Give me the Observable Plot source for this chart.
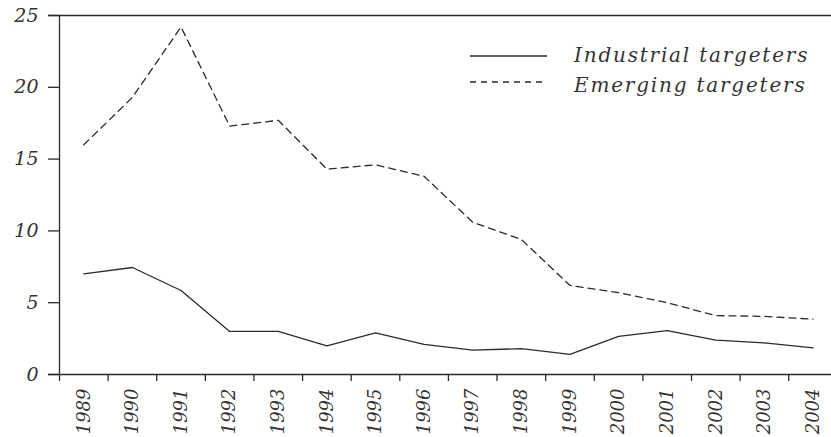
<!DOCTYPE html>
<html>
<head>
<meta charset="utf-8">
<script src="https://cdn.jsdelivr.net/npm/d3@7"></script>
<script src="https://cdn.jsdelivr.net/npm/@observablehq/plot@0.6"></script>
<style>
  html, body { margin: 0; padding: 0; background: #fff; }
  #wrap { position: relative; width: 831px; height: 437px; }
  #legend { position: absolute; left: 0; top: 0; }
</style>
</head>
<body>
<div id="wrap"></div>
<script>
const years = [1989,1990,1991,1992,1993,1994,1995,1996,1997,1998,1999,2000,2001,2002,2003,2004];
const industrial = [7.0,7.45,5.85,3.0,3.0,2.0,2.9,2.1,1.7,1.8,1.4,2.65,3.05,2.4,2.2,1.85];
const emerging = [16.0,19.3,24.2,17.3,17.7,14.3,14.6,13.8,10.6,9.4,6.2,5.7,5.0,4.1,4.05,3.85];
const yTicks = [0,5,10,15,20,25];
const seriesNames = ["Industrial targeters", "Emerging targeters"];

const rows = [];
years.forEach((y, i) => {
  rows.push({year: y, value: industrial[i], series: seriesNames[0]});
  rows.push({year: y, value: emerging[i], series: seriesNames[1]});
});
const bounds = years.map(y => y - 0.5);

const font = "'DejaVu Serif', serif";
const ink = "#2a2a2a";

const chart = Plot.plot({
  width: 831,
  height: 437,
  marginLeft: 59,
  marginTop: 15,
  marginBottom: 63,
  marginRight: 0,
  style: {fontFamily: font, background: "#fff"},
  x: {type: "linear", domain: [1988.5, 2004.38], axis: null},
  y: {type: "linear", domain: [0, 25], axis: null},
  marks: [
    Plot.ruleY([0, 25], {stroke: ink, strokeWidth: 1.3, insetLeft: -11}),
    Plot.ruleX([1988.5], {stroke: ink, strokeWidth: 1.3}),
    Plot.axisY({ticks: yTicks, tickSize: 11, tickPadding: 10, stroke: ink, strokeWidth: 1.3,
      fontSize: 19, fontStyle: "italic", fill: "#333", label: null}),
    Plot.axisX({ticks: bounds, tickSize: 7, tickFormat: () => "", stroke: ink, strokeWidth: 1.3, label: null}),
    Plot.text(years, {x: d => d, y: 0, text: d => String(d), rotate: -90, textAnchor: "end",
      dy: 14, fontSize: 18, fontStyle: "italic", fill: "#333"}),
    Plot.line(rows.filter(d => d.series === seriesNames[0]), {x: "year", y: "value", stroke: ink, strokeWidth: 1.3}),
    Plot.line(rows.filter(d => d.series === seriesNames[1]), {x: "year", y: "value", stroke: ink, strokeWidth: 1.3, strokeDasharray: "7,5"})
  ]
});
document.getElementById("wrap").appendChild(chart);

// legend overlay
const ns = "http://www.w3.org/2000/svg";
const leg = document.createElementNS(ns, "svg");
leg.setAttribute("id", "legend");
leg.setAttribute("width", 831);
leg.setAttribute("height", 120);
const entries = [
  {name: seriesNames[0], y: 56, ty: 55, dash: null},
  {name: seriesNames[1], y: 82, ty: 85, dash: "6,5"}
];
entries.forEach(e => {
  const l = document.createElementNS(ns, "line");
  l.setAttribute("x1", 470); l.setAttribute("x2", 547);
  l.setAttribute("y1", e.y); l.setAttribute("y2", e.y);
  l.setAttribute("stroke", ink); l.setAttribute("stroke-width", 1.3);
  if (e.dash) l.setAttribute("stroke-dasharray", e.dash);
  leg.appendChild(l);
  const t = document.createElementNS(ns, "text");
  t.setAttribute("x", 574); t.setAttribute("y", e.ty);
  t.setAttribute("dy", "0.35em");
  t.setAttribute("font-family", font);
  t.setAttribute("font-style", "italic");
  t.setAttribute("font-size", 20);
  t.setAttribute("letter-spacing", "1.8");
  t.setAttribute("fill", "#333");
  t.textContent = e.name;
  leg.appendChild(t);
});
document.getElementById("wrap").appendChild(leg);
</script>
</body>
</html>
